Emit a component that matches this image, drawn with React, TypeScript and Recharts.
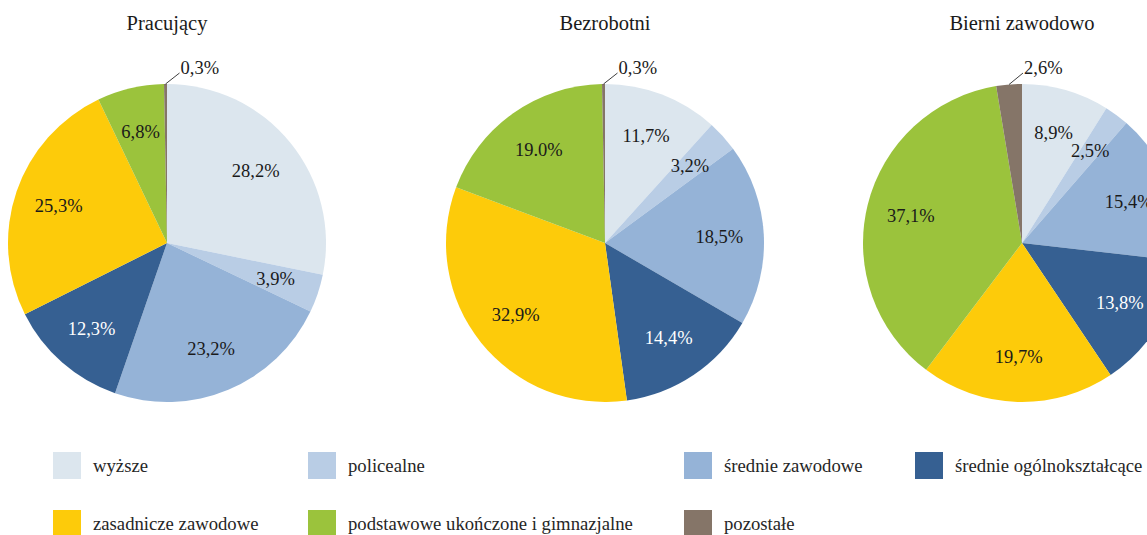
import React from "react";
import { PieChart, Pie, Cell, Legend } from "recharts";

const categories = [
  "wyższe",
  "policealne",
  "średnie zawodowe",
  "średnie ogólnokształcące",
  "zasadnicze zawodowe",
  "podstawowe ukończone i gimnazjalne",
  "pozostałe",
];
const colors = ["#DCE6EE", "#B9CDE5", "#95B3D7", "#366092", "#FDCB0A", "#9BC33C", "#857568"];

const titles = ["Pracujący", "Bezrobotni", "Bierni zawodowo"];

const pracujacy = [28.2, 3.9, 23.2, 12.3, 25.3, 6.8, 0.3];
const bezrobotni = [11.7, 3.2, 18.5, 14.4, 32.9, 19.0, 0.3];
const bierni = [8.9, 2.5, 15.4, 13.8, 19.7, 37.1, 2.6];

const pracujacyLabels = ["28,2%", "3,9%", "23,2%", "12,3%", "25,3%", "6,8%", "0,3%"];
const bezrobotniLabels = ["11,7%", "3,2%", "18,5%", "14,4%", "32,9%", "19.0%", "0,3%"];
const bierniLabels = ["8,9%", "2,5%", "15,4%", "13,8%", "19,7%", "37,1%", "2,6%"];

const W = 1147;
const H = 535;
const R = 159;
const CY = 243;
const centers = [167, 605, 1022];
const FONT = "'Liberation Serif', 'Times New Roman', serif";
const RAD = Math.PI / 180;

const legendCols = [53, 308, 684, 915];
const legendRows = [465.5, 523.5];
const LEGEND_TOP = 440;

const series = [
  { values: pracujacy, labels: pracujacyLabels },
  { values: bezrobotni, labels: bezrobotniLabels },
  { values: bierni, labels: bierniLabels },
];

const makeLabel = (labels: string[]) => (props: any) => {
  const { cx, cy, midAngle, outerRadius, index } = props;
  const cos = Math.cos(-midAngle * RAD);
  const sin = Math.sin(-midAngle * RAD);
  if (index === categories.length - 1) {
    // small "pozostałe" slice: label outside with a leader line
    const ex = cx + outerRadius * cos;
    const ey = cy + outerRadius * sin;
    const lx = ex + 14;
    const ly = cy - outerRadius - 11;
    return (
      <g>
        <line x1={ex} y1={ey} x2={lx} y2={ly} stroke="#404040" strokeWidth={1} />
        <text x={lx + 1} y={ly - 5} textAnchor="start" dominantBaseline="central" fill="#1a1a1a" fontSize={18.5} fontFamily={FONT}>
          {labels[index]}
        </text>
      </g>
    );
  }
  const r = outerRadius * 0.72;
  return (
    <text
      x={cx + r * cos}
      y={cy + r * sin}
      textAnchor="middle"
      dominantBaseline="central"
      fill={index === 3 ? "#ffffff" : "#1a1a1a"}
      fontSize={18.5}
      fontFamily={FONT}
    >
      {labels[index]}
    </text>
  );
};

const renderLegend = () => (
  <div style={{ position: "relative", width: W, height: H - LEGEND_TOP }}>
    {categories.map((name, i) => {
      const x = legendCols[i % 4];
      const y = legendRows[Math.floor(i / 4)] - LEGEND_TOP;
      return (
        <div
          key={name}
          style={{ position: "absolute", left: x, top: y - 13.5, height: 27, display: "flex", alignItems: "center", whiteSpace: "nowrap" }}
        >
          <div style={{ width: 28, height: 27, background: colors[i] }} />
          <span style={{ marginLeft: 12, fontSize: 18.7, fontFamily: FONT, color: "#262626" }}>{name}</span>
        </div>
      );
    })}
  </div>
);

export default function App() {
  return (
    <div style={{ position: "absolute", left: 0, top: 0, width: W, height: H, overflow: "hidden", background: "#fff" }}>
      {titles.map((t, i) => (
        <div
          key={t}
          style={{
            position: "absolute",
            left: centers[i] - 150,
            width: 300,
            top: 13,
            lineHeight: "20px",
            textAlign: "center",
            fontSize: 20.5,
            fontFamily: FONT,
            color: "#1a1a1a",
          }}
        >
          {t}
        </div>
      ))}
      <PieChart
        width={W}
        height={H}
        margin={{ top: 0, right: 0, bottom: 0, left: 0 }}
        style={{ position: "absolute", left: 0, top: 0 }}
      >
        {series.map((s, si) => (
          <Pie
            key={si}
            data={categories.map((name, i) => ({ name, value: s.values[i] }))}
            dataKey="value"
            nameKey="name"
            cx={centers[si]}
            cy={CY}
            outerRadius={R}
            startAngle={90}
            endAngle={-270}
            stroke="none"
            label={makeLabel(s.labels)}
            labelLine={false}
            isAnimationActive={false}
          >
            {categories.map((name, i) => (
              <Cell key={name} fill={colors[i]} />
            ))}
          </Pie>
        ))}
        <Legend
          content={renderLegend}
          wrapperStyle={{ position: "absolute", left: 0, top: LEGEND_TOP, width: W, height: H - LEGEND_TOP }}
        />
      </PieChart>
    </div>
  );
}
